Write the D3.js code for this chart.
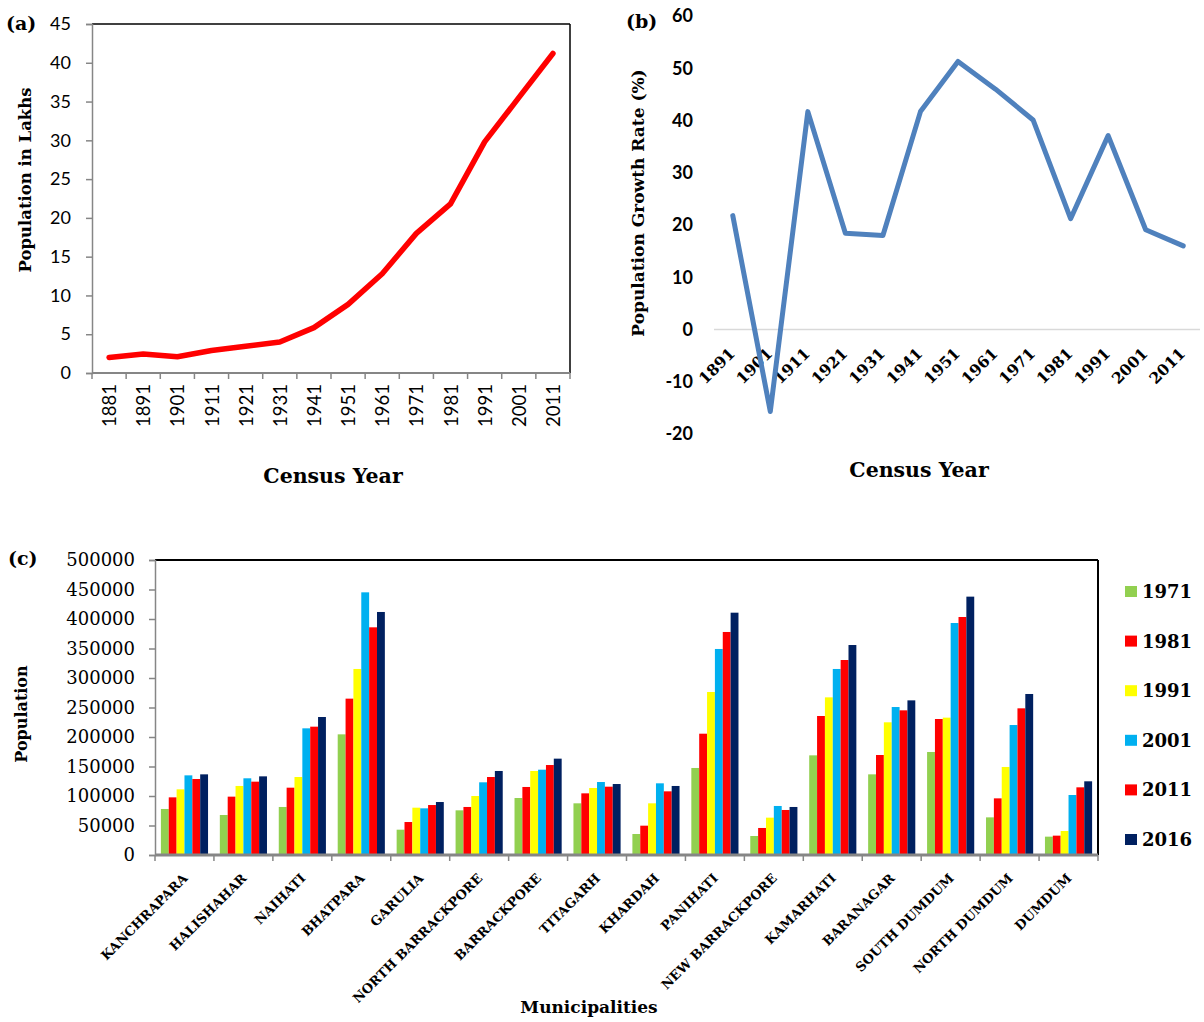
<!DOCTYPE html>
<html><head>
<meta charset="utf-8">
<title>Population charts</title>
<script src="https://d3js.org/d3.v7.min.js"></script>
<style>
  body { margin: 0; background: #fff; }
  svg { display: block; background: #fff; }
  .serif { font-family: "DejaVu Serif", serif; }
  .sans { font-family: Lato, "Open Sans", sans-serif; }
  .ttl { font-family: "DejaVu Serif", serif; font-weight: bold; fill: #000; }
</style>
</head>
<body>
<svg id="chart" width="1204" height="1022"></svg>
<script>
// ---- data ----
const yearsA = ["1881","1891","1901","1911","1921","1931","1941","1951","1961","1971","1981","1991","2001","2011"];
const popLakhs = [2.0, 2.45, 2.1, 2.9, 3.45, 4.0, 5.85, 8.85, 12.8, 18.0, 21.8, 29.8, 35.5, 41.2];

const yearsB = ["1891","1901","1911","1921","1931","1941","1951","1961","1971","1981","1991","2001","2011"];
const growthRate = [21.8, -15.7, 41.7, 18.4, 18.0, 41.7, 51.3, 46.0, 40.1, 21.2, 37.1, 19.1, 16.0];

const municipalities = ["KANCHRAPARA","HALISHAHAR","NAIHATI","BHATPARA","GARULIA","NORTH BARRACKPORE",
  "BARRACKPORE","TITAGARH","KHARDAH","PANIHATI","NEW BARRACKPORE","KAMARHATI","BARANAGAR",
  "SOUTH DUMDUM","NORTH DUMDUM","DUMDUM"];
const censusYears = ["1971","1981","1991","2001","2011","2016"];
const pop1971 = [78000, 67800, 81400, 204500, 42900, 75700, 96600, 87600, 35600, 147500, 32200, 168900, 136700, 174600, 63800, 31100];
const pop1981 = [97700, 98900, 114100, 265000, 55900, 81400, 115300, 104500, 49700, 205600, 45800, 235600, 169500, 230500, 96000, 32800];
const pop1991 = [111300, 117000, 132200, 315300, 80200, 100000, 142400, 113600, 87600, 276300, 63300, 267200, 224900, 232800, 149200, 40700];
const pop2001 = [135000, 130000, 214700, 445200, 79100, 123200, 144600, 123700, 121500, 349200, 83100, 315300, 250800, 393200, 220300, 101700];
const pop2011 = [128800, 124300, 217500, 385900, 84700, 132200, 152500, 115800, 107900, 378000, 76300, 330500, 245200, 403400, 248600, 114700];
const pop2016 = [136700, 133300, 233900, 411900, 89800, 142400, 163300, 120300, 117000, 410700, 81400, 355900, 262100, 437900, 272900, 124900];
const popSeries = [pop1971, pop1981, pop1991, pop2001, pop2011, pop2016];
const seriesColors = ["#92d050", "#ff0000", "#ffff00", "#00b0f0", "#ff0000", "#002060"];

const svg = d3.select("#chart");
const axisGray = "#868686";

// ================= panel (a) =================
const A = {left: 92, right: 570, top: 24, bottom: 373};
const xA = d3.scaleBand().domain(yearsA).range([A.left, A.right]);
const yA = d3.scaleLinear().domain([0, 45]).range([A.bottom, A.top]);
const gA = svg.append("g");

// frame: top + right black, left + bottom gray
gA.append("line").attr("x1", A.left).attr("x2", A.right).attr("y1", A.top).attr("y2", A.top)
  .attr("stroke", "#000").attr("stroke-width", 1.5);
gA.append("line").attr("x1", A.right).attr("x2", A.right).attr("y1", A.top).attr("y2", A.bottom)
  .attr("stroke", "#000").attr("stroke-width", 1.5);

const axA = gA.append("g").attr("transform", `translate(${A.left},0)`)
  .call(d3.axisLeft(yA).tickValues(d3.range(0, 46, 5)).tickSize(6).tickPadding(15));
axA.select(".domain").attr("stroke", axisGray).attr("stroke-width", 1.5);
axA.selectAll(".tick line").attr("stroke", axisGray).attr("stroke-width", 1.5);
axA.selectAll(".tick text").attr("class", "sans").attr("font-size", 18).attr("fill", "#000");

gA.append("line").attr("x1", A.left).attr("x2", A.right).attr("y1", A.bottom).attr("y2", A.bottom)
  .attr("stroke", axisGray).attr("stroke-width", 2);
gA.selectAll("line.bt").data(d3.range(yearsA.length + 1)).join("line").attr("class", "bt")
  .attr("x1", i => A.left + i * xA.step()).attr("x2", i => A.left + i * xA.step())
  .attr("y1", A.bottom).attr("y2", A.bottom + 6).attr("stroke", axisGray).attr("stroke-width", 1.5);
gA.selectAll("text.xl").data(yearsA).join("text").attr("class", "xl sans")
  .attr("font-size", 18.5).attr("text-anchor", "end")
  .attr("transform", d => `translate(${xA(d) + xA.bandwidth() / 2 + 7},${A.bottom + 11}) rotate(-90)`)
  .text(d => d);

gA.append("path").datum(popLakhs)
  .attr("fill", "none").attr("stroke", "#ff0000").attr("stroke-width", 5.5)
  .attr("stroke-linejoin", "round").attr("stroke-linecap", "round")
  .attr("d", d3.line().x((d, i) => xA(yearsA[i]) + xA.bandwidth() / 2).y(d => yA(d)));

gA.append("text").attr("class", "ttl").attr("font-size", 16.5).attr("text-anchor", "middle")
  .attr("transform", "translate(31,180) rotate(-90)").text("Population in Lakhs");
gA.append("text").attr("class", "ttl").attr("font-size", 20.5).attr("text-anchor", "middle")
  .attr("x", 333).attr("y", 483).text("Census Year");
gA.append("text").attr("class", "ttl").attr("font-size", 19).attr("x", 6).attr("y", 30).text("(a)");

// ================= panel (b) =================
const B = {left: 714, right: 1202, top: 16, bottom: 434};
const xB = d3.scaleBand().domain(yearsB).range([B.left, B.right]);
const yB = d3.scaleLinear().domain([-20, 60]).range([B.bottom, B.top]);
const gB = svg.append("g");

gB.append("line").attr("x1", B.left).attr("x2", 1200).attr("y1", yB(0)).attr("y2", yB(0))
  .attr("stroke", "#d9d9d9").attr("stroke-width", 1.5);
gB.selectAll("text.yl").data(d3.range(-20, 61, 10)).join("text").attr("class", "yl sans")
  .attr("font-size", 18).attr("font-weight", "bold").attr("text-anchor", "end")
  .attr("x", 693).attr("y", d => yB(d)).attr("dy", "0.35em").text(d => d);
gB.selectAll("text.xl").data(yearsB).join("text").attr("class", "xl serif")
  .attr("font-size", 15.5).attr("font-weight", "bold").attr("text-anchor", "end")
  .attr("transform", d => `translate(${xB(d) + xB.bandwidth() / 2 + 3},${yB(0) + 25}) rotate(-45)`)
  .text(d => d);

gB.append("path").datum(growthRate)
  .attr("fill", "none").attr("stroke", "#4f81bd").attr("stroke-width", 5)
  .attr("stroke-linejoin", "round").attr("stroke-linecap", "round")
  .attr("d", d3.line().x((d, i) => xB(yearsB[i]) + xB.bandwidth() / 2).y(d => yB(d)));

gB.append("text").attr("class", "ttl").attr("font-size", 17).attr("text-anchor", "middle")
  .attr("transform", "translate(644,203) rotate(-90)").text("Population Growth Rate (%)");
gB.append("text").attr("class", "ttl").attr("font-size", 20.5).attr("text-anchor", "middle")
  .attr("x", 919).attr("y", 477).text("Census Year");
gB.append("text").attr("class", "ttl").attr("font-size", 19).attr("x", 626).attr("y", 28).text("(b)");

// ================= panel (c) =================
const C = {left: 155, right: 1098, top: 560, bottom: 855};
const xC = d3.scaleBand().domain(municipalities).range([C.left, C.right]);
const xInner = d3.scaleBand().domain(censusYears)
  .range([xC.bandwidth() * 0.1, xC.bandwidth() * 0.9]);
const yC = d3.scaleLinear().domain([0, 500000]).range([C.bottom, C.top]);
const gC = svg.append("g");

// bars
const groups = gC.selectAll("g.grp").data(municipalities).join("g").attr("class", "grp")
  .attr("transform", d => `translate(${xC(d)},0)`);
groups.selectAll("rect").data((m, i) => censusYears.map((y, k) => ({year: y, k: k, v: popSeries[k][i]})))
  .join("rect")
  .attr("x", d => xInner(d.year)).attr("width", xInner.bandwidth())
  .attr("y", d => yC(d.v)).attr("height", d => C.bottom - yC(d.v))
  .attr("fill", d => seriesColors[d.k]);

gC.append("line").attr("x1", C.left).attr("x2", C.right).attr("y1", C.top).attr("y2", C.top)
  .attr("stroke", "#000").attr("stroke-width", 2);
gC.append("line").attr("x1", C.right).attr("x2", C.right).attr("y1", C.top).attr("y2", C.bottom)
  .attr("stroke", "#000").attr("stroke-width", 2);

const axC = gC.append("g").attr("transform", `translate(${C.left},0)`)
  .call(d3.axisLeft(yC).tickValues(d3.range(0, 500001, 50000)).tickFormat(d3.format("d"))
    .tickSize(6).tickPadding(14));
axC.select(".domain").attr("stroke", axisGray).attr("stroke-width", 1.5);
axC.selectAll(".tick line").attr("stroke", axisGray).attr("stroke-width", 1.5);
axC.selectAll(".tick text").attr("class", "serif").attr("font-size", 18).attr("fill", "#000");

gC.append("line").attr("x1", C.left).attr("x2", C.right).attr("y1", C.bottom).attr("y2", C.bottom)
  .attr("stroke", axisGray).attr("stroke-width", 3);
gC.selectAll("line.bt").data(d3.range(municipalities.length + 1)).join("line").attr("class", "bt")
  .attr("x1", i => C.left + i * xC.step()).attr("x2", i => C.left + i * xC.step())
  .attr("y1", C.bottom).attr("y2", C.bottom + 6).attr("stroke", axisGray).attr("stroke-width", 1.5);
gC.selectAll("text.xl").data(municipalities).join("text").attr("class", "xl serif")
  .attr("font-size", 13).attr("font-weight", "bold").attr("text-anchor", "end")
  .attr("transform", d => `translate(${xC(d) + xC.bandwidth() / 2 + 4},${C.bottom + 24}) rotate(-45)`)
  .text(d => d);

// legend
const leg = gC.selectAll("g.leg").data(censusYears).join("g").attr("class", "leg")
  .attr("transform", (d, i) => `translate(1125,${598 + i * 49.6})`);
leg.append("rect").attr("x", 0).attr("y", -12).attr("width", 12).attr("height", 11)
  .attr("fill", (d, i) => seriesColors[i]);
leg.append("text").attr("class", "ttl").attr("font-size", 18).attr("x", 17).attr("y", 0).text(d => d);

gC.append("text").attr("class", "ttl").attr("font-size", 16).attr("text-anchor", "middle")
  .attr("transform", "translate(27,714) rotate(-90)").text("Population");
gC.append("text").attr("class", "ttl").attr("font-size", 17).attr("text-anchor", "middle")
  .attr("x", 589).attr("y", 1013).text("Municipalities");
gC.append("text").attr("class", "ttl").attr("font-size", 19).attr("x", 8).attr("y", 565).text("(c)");
</script>
</body>
</html>
